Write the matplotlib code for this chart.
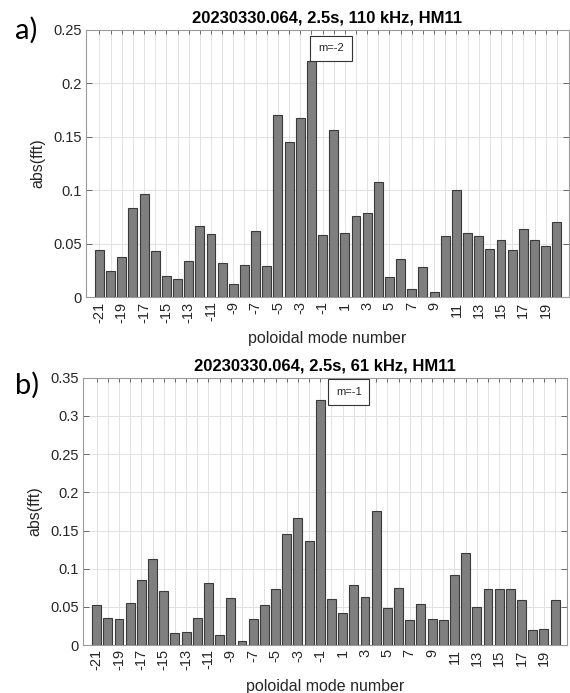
import matplotlib as mpl
mpl.use('Agg')
import matplotlib.pyplot as plt
from matplotlib.ticker import FuncFormatter
import numpy as np

# poloidal mode numbers -21 .. 20
modes = list(range(-21, 21))

# abs(fft), 110 kHz
amp_a = [0.044, 0.025, 0.038, 0.083, 0.097, 0.043, 0.020, 0.017, 0.034, 0.067,
         0.059, 0.032, 0.012, 0.030, 0.062, 0.029, 0.170, 0.145, 0.168, 0.221,
         0.058, 0.156, 0.060, 0.076, 0.079, 0.108, 0.019, 0.036, 0.008, 0.028,
         0.005, 0.057, 0.100, 0.060, 0.057, 0.045, 0.054, 0.044, 0.064, 0.054,
         0.048, 0.070]

# abs(fft), 61 kHz
amp_b = [0.052, 0.036, 0.034, 0.055, 0.085, 0.113, 0.071, 0.016, 0.017, 0.035,
         0.081, 0.013, 0.062, 0.005, 0.034, 0.053, 0.074, 0.146, 0.166, 0.136,
         0.321, 0.060, 0.042, 0.079, 0.063, 0.176, 0.049, 0.075, 0.033, 0.054,
         0.034, 0.033, 0.092, 0.121, 0.050, 0.073, 0.073, 0.073, 0.059, 0.020,
         0.021, 0.059]

titles = ["20230330.064, 2.5s, 110 kHz, HM11", "20230330.064, 2.5s, 61 kHz, HM11"]
panel_tags = ["a)", "b)"]
peak_labels = ["m=-2", "m=-1"]
ylims = [0.25, 0.35]

plt.rcParams['font.family'] = ['Liberation Sans', 'DejaVu Sans']

fig = plt.figure(figsize=(5.7, 6.93), dpi=100)
ax_a = fig.add_axes([0.151, 0.571, 0.847, 0.386])
ax_b = fig.add_axes([0.146, 0.069, 0.849, 0.386])

txtc = '#262626'


def draw(ax, amp, title, ymax, peak, box_dx, box_dy):
    ax.set_axisbelow(True)
    ax.bar(modes, amp, width=0.8, color='#7f7f7f', edgecolor='#3a3a3a', linewidth=0.8, zorder=3)
    ax.set_xlim(-22.2, 21.08)
    ax.set_ylim(0, ymax)
    ax.set_xticks(modes)
    ax.set_xticklabels([str(m) if m % 2 != 0 else '' for m in modes], rotation=90)
    ax.set_yticks(np.arange(0, ymax + 1e-9, 0.05))
    ax.yaxis.set_major_formatter(FuncFormatter(lambda v, p: '%g' % round(v, 3)))
    ax.tick_params(direction='in', top=True, right=True, length=4, width=0.6,
                   colors='#555555', labelcolor=txtc, labelsize=10.5, pad=3)
    ax.tick_params(axis='x', length=3)
    ax.grid(True, color='#e2e2e2', linewidth=0.7)
    for s in ax.spines.values():
        s.set_color('#9a9a9a')
        s.set_linewidth(0.8)
    ax.set_title(title, fontsize=12, fontweight='bold', color='black', pad=5)
    ax.set_xlabel('poloidal mode number', fontsize=11.5, color=txtc, labelpad=6)
    ax.set_ylabel('abs(fft)', fontsize=11.5, color=txtc, labelpad=6)
    i = int(np.argmax(amp))
    ax.text(modes[i] + box_dx, amp[i] + box_dy, peak, fontsize=8, color=txtc,
            ha='left', va='bottom', zorder=5,
            bbox=dict(boxstyle='square,pad=0.7', facecolor='white', edgecolor='#333333', linewidth=0.8))


draw(ax_a, amp_a, titles[0], ylims[0], peak_labels[0], 0.6, 0.007)
draw(ax_b, amp_b, titles[1], ylims[1], peak_labels[1], 1.4, 0.004)

fig.text(0.026, 0.944, panel_tags[0], fontsize=21, family=['Lato', 'DejaVu Sans'])
fig.text(0.026, 0.432, panel_tags[1], fontsize=21, family=['Lato', 'DejaVu Sans'])

fig.savefig('out.png', dpi=100)
